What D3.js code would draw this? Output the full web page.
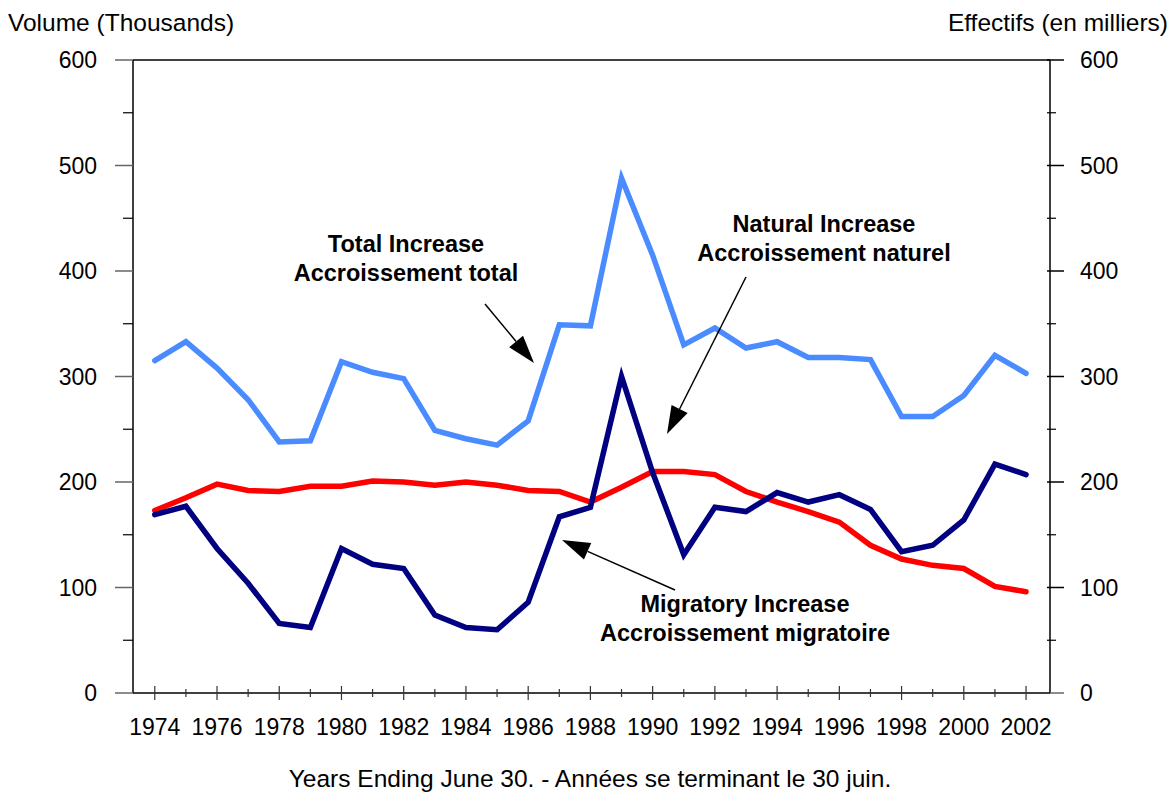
<!DOCTYPE html>
<html>
<head>
<meta charset="utf-8">
<script src="https://cdn.jsdelivr.net/npm/d3@7"></script>
<style>
  html, body { margin: 0; padding: 0; background: #fff; }
  svg { display: block; font-family: "Liberation Sans", Arial, sans-serif; }
</style>
</head>
<body>
<svg id="chart" width="1176" height="792"></svg>
<script>
const years = d3.range(1974, 2003);
const totalIncrease = [315,333,308,278,238,239,314,304,298,249,241,235,258,349,348,488,415,330,346,327,333,318,318,316,262,262,282,320,303];
const naturalIncrease = [173,185,198,192,191,196,196,201,200,197,200,197,192,191,181,195,210,210,207,191,181,172,162,140,127,121,118,101,96];
const migratoryIncrease = [169,177,137,104,66,62,137,122,118,74,62,60,86,167,176,300,209,131,176,172,190,181,188,174,134,140,164,217,207];
const yMajorTicks = [0,100,200,300,400,500,600];
const yMinorTicks = [50,150,250,350,450,550];
const xLabelYears = d3.range(1974, 2003, 2);

(function () {
const svg = d3.select("#chart");
const pl = 133, pr = 1050, pt = 60, pb = 693;

const x = d3.scaleLinear().domain([1973.3, 2002.77]).range([pl, pr]);
const y = d3.scaleLinear().domain([0, 600]).range([pb, pt]);

const font = 23;

// frame
svg.append("line").attr("x1", pl).attr("x2", pr).attr("y1", pt).attr("y2", pt)
  .attr("stroke", "#000").attr("stroke-width", 1.5);

// left axis
const gl = svg.append("g").attr("transform", `translate(${pl},0)`);
gl.append("line").attr("y1", pt).attr("y2", pb).attr("stroke", "#000").attr("stroke-width", 1.5);
gl.selectAll(".maj").data(yMajorTicks).join("line").attr("class", "maj")
  .attr("x1", -18).attr("x2", 0).attr("y1", d => y(d)).attr("y2", d => y(d))
  .attr("stroke", "#666").attr("stroke-width", 1.5);
gl.selectAll(".min").data(yMinorTicks).join("line").attr("class", "min")
  .attr("x1", -10).attr("x2", 0).attr("y1", d => y(d)).attr("y2", d => y(d))
  .attr("stroke", "#000").attr("stroke-width", 1.2);
gl.selectAll("text").data(yMajorTicks).join("text")
  .attr("x", -36).attr("y", d => y(d)).attr("dy", "0.36em")
  .attr("text-anchor", "end").attr("font-size", font).text(d => d);

// right axis
const gr = svg.append("g").attr("transform", `translate(${pr},0)`);
gr.append("line").attr("y1", pt).attr("y2", pb).attr("stroke", "#000").attr("stroke-width", 1.5);
gr.selectAll(".maj").data(yMajorTicks).join("line").attr("class", "maj")
  .attr("x1", d => d === 0 ? 0 : -3).attr("x2", 14).attr("y1", d => y(d)).attr("y2", d => y(d))
  .attr("stroke", d => d === 0 ? "#666" : "#000").attr("stroke-width", 1.5);
gr.selectAll(".min").data(yMinorTicks).join("line").attr("class", "min")
  .attr("x1", -3).attr("x2", 6).attr("y1", d => y(d)).attr("y2", d => y(d))
  .attr("stroke", "#000").attr("stroke-width", 1.2);
gr.selectAll("text").data(yMajorTicks).join("text")
  .attr("x", 30).attr("y", d => y(d)).attr("dy", "0.36em")
  .attr("text-anchor", "start").attr("font-size", font).text(d => d);

// x axis
const gx = svg.append("g").attr("transform", `translate(0,${pb})`);
gx.append("line").attr("x1", pl).attr("x2", pr).attr("stroke", "#000").attr("stroke-width", 1.5);
gx.selectAll(".tk").data(years).join("line").attr("class", "tk")
  .attr("x1", d => x(d)).attr("x2", d => x(d))
  .attr("y1", d => (d % 2 === 0 ? -7 : -4)).attr("y2", d => (d % 2 === 0 ? 7 : 4))
  .attr("stroke", "#333").attr("stroke-width", 1.2);
gx.selectAll("text").data(xLabelYears).join("text")
  .attr("x", d => x(d)).attr("y", 42)
  .attr("text-anchor", "middle").attr("font-size", font).text(d => d);

// axis titles
svg.append("text").attr("x", 8).attr("y", 31).attr("font-size", 24.5).text("Volume (Thousands)");
svg.append("text").attr("x", 1168).attr("y", 31).attr("text-anchor", "end").attr("font-size", 24.5).text("Effectifs (en milliers)");
svg.append("text").attr("x", 590).attr("y", 787).attr("text-anchor", "middle").attr("font-size", 24.5)
  .text("Years Ending June 30. - Années se terminant le 30 juin.");

// lines
const line = d3.line().x((d, i) => x(years[i])).y(d => y(d));
const series = [
  { data: naturalIncrease, color: "#ff0000" },
  { data: totalIncrease, color: "#4a8cff" },
  { data: migratoryIncrease, color: "#000080" }
];
svg.selectAll(".series").data(series).join("path").attr("class", "series")
  .attr("d", d => line(d.data)).attr("fill", "none")
  .attr("stroke", d => d.color).attr("stroke-width", 5.5)
  .attr("stroke-linejoin", "miter").attr("stroke-linecap", "round");

// annotations
function arrow(x1, y1, x2, y2) {
  const ang = Math.atan2(y2 - y1, x2 - x1);
  const len = 28, half = 9;
  const bx = x2 - len * Math.cos(ang), by = y2 - len * Math.sin(ang);
  svg.append("line").attr("x1", x1).attr("y1", y1).attr("x2", bx).attr("y2", by)
    .attr("stroke", "#000").attr("stroke-width", 1.5);
  const px = -Math.sin(ang) * half, py = Math.cos(ang) * half;
  svg.append("path")
    .attr("d", `M${x2},${y2}L${bx + px},${by + py}L${bx - px},${by - py}Z`)
    .attr("fill", "#000");
}
function label(cx, cy, lines) {
  const t = svg.append("text").attr("text-anchor", "middle").attr("font-size", 23.5)
    .attr("font-weight", "bold");
  lines.forEach((s, i) => t.append("tspan").attr("x", cx).attr("y", cy + i * 29).text(s));
}
label(406, 252, ["Total Increase", "Accroissement total"]);
arrow(485, 304, 534, 363);
label(824, 232, ["Natural Increase", "Accroissement naturel"]);
arrow(746, 277, 667, 434);
label(745, 612, ["Migratory Increase", "Accroissement migratoire"]);
arrow(675, 590, 562, 540);
})();
</script>
</body>
</html>
